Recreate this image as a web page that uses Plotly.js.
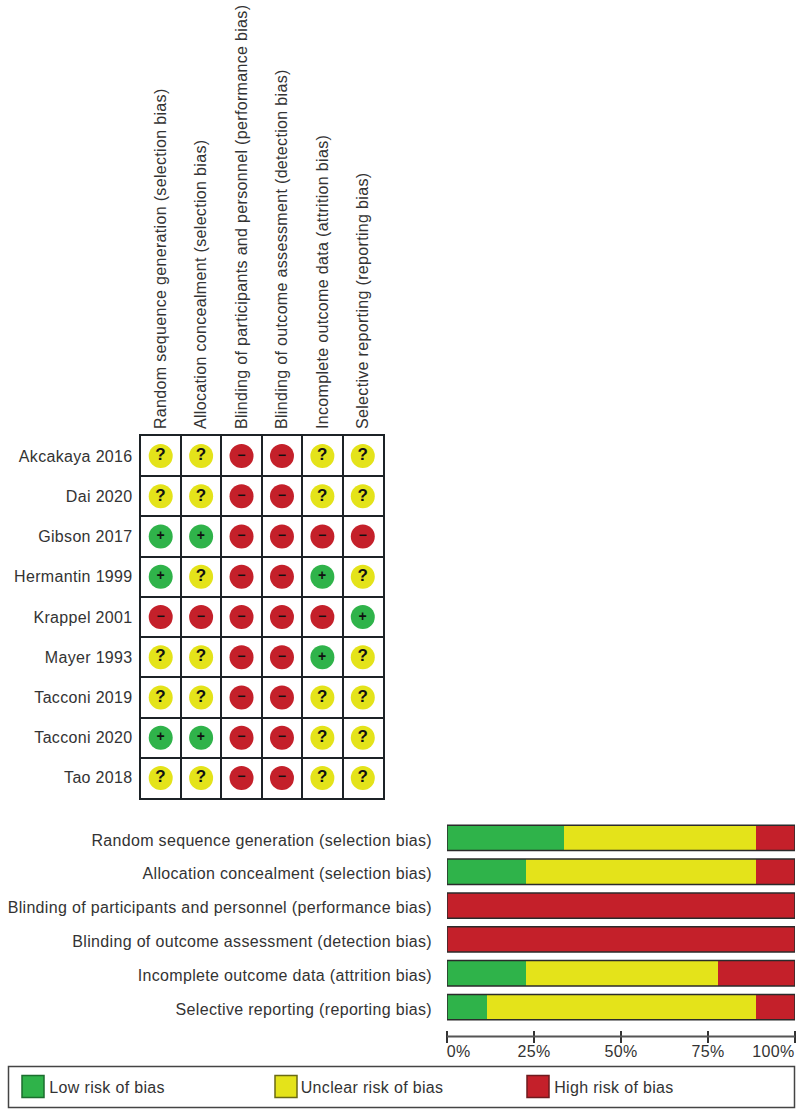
<!DOCTYPE html>
<html>
<head>
<meta charset="utf-8">
<script src="https://cdn.plot.ly/plotly-3.0.1.min.js"></script>
<style>html,body{margin:0;padding:0;background:#fff}#chart{width:800px;height:1110px}
#chart svg text{letter-spacing:.33px}</style>
</head>
<body>
<div id="chart"></div>
<script>
var studies = ['Akcakaya 2016','Dai 2020','Gibson 2017','Hermantin 1999','Krappel 2001','Mayer 1993','Tacconi 2019','Tacconi 2020','Tao 2018'];
var domains = ['Random sequence generation (selection bias)','Allocation concealment (selection bias)','Blinding of participants and personnel (performance bias)','Blinding of outcome assessment (detection bias)','Incomplete outcome data (attrition bias)','Selective reporting (reporting bias)'];
var akcakaya2016 = ['?','?','-','-','?','?'];
var dai2020      = ['?','?','-','-','?','?'];
var gibson2017   = ['+','+','-','-','-','-'];
var hermantin1999= ['+','?','-','-','+','?'];
var krappel2001  = ['-','-','-','-','-','+'];
var mayer1993    = ['?','?','-','-','+','?'];
var tacconi2019  = ['?','?','-','-','?','?'];
var tacconi2020  = ['+','+','-','-','?','?'];
var tao2018      = ['?','?','-','-','?','?'];
var judgements = [akcakaya2016,dai2020,gibson2017,hermantin1999,krappel2001,mayer1993,tacconi2019,tacconi2020,tao2018];
var lowPct     = [33.6,22.6,0,0,22.6,11.4];
var unclearPct = [55.2,66.2,0,0,55.4,77.4];
var highPct    = [11.2,11.2,100,100,22.0,11.2];
var pctTicks = [0,25,50,75,100];
var pctLabels = ['0%','25%','50%','75%','100%'];
var legendNames = ['Low risk of bias','Unclear risk of bias','High risk of bias'];

var GREEN='#2fb34a', YELLOW='#e4e31a', RED='#c4202a', INK='#1c2226', TEXT='#333333';
var FONT='"Liberation Sans", Arial, sans-serif', FS=16;
var py=function(p){return 1-p/1110;};
var px=function(p){return p/800;};

var symbols=[['+',GREEN,'#1f9a3a','+'],['?',YELLOW,'#d6d412','?'],['-',RED,'#b81c26','\u2212']];
var traces=[];
symbols.forEach(function(s){
  var xs=[],ys=[];
  judgements.forEach(function(row,i){row.forEach(function(v,j){if(v===s[0]){xs.push(domains[j]);ys.push(studies[i]);}});});
  traces.push({type:'scatter',mode:'markers+text',x:xs,y:ys,xaxis:'x',yaxis:'y',showlegend:false,hoverinfo:'x+y',
    text:xs.map(function(){return '<b>'+s[3]+'</b>';}),textposition:'middle center',
    textfont:{family:FONT,size:s[0]==='?'?17:14,color:'#111'},
    marker:{size:24,color:s[1],line:{width:0}}});
});
[[lowPct,GREEN,legendNames[0]],[unclearPct,YELLOW,legendNames[1]],[highPct,RED,legendNames[2]]].forEach(function(b){
  traces.push({type:'bar',orientation:'h',x:b[0],y:domains,xaxis:'x2',yaxis:'y2',name:b[2],showlegend:false,
    marker:{color:b[1],line:{width:0}},hovertemplate:'%{y}: %{x}%<extra>'+b[2]+'</extra>'});
});

var shapes=[], annotations=[];
domains.forEach(function(d,i){
  shapes.push({type:'rect',xref:'x2',yref:'y2',x0:0,x1:100,y0:i-0.375,y1:i+0.375,line:{color:'#2b2b2b',width:1.5},layer:'above'});
});
shapes.push({type:'line',xref:'x2',yref:'paper',x0:0,x1:100,y0:py(1036.5),y1:py(1036.5),line:{color:'#555',width:2}});
pctTicks.forEach(function(t,i){
  annotations.push({xref:'x2',yref:'paper',x:t,y:py(1051),text:pctLabels[i],showarrow:false,
    xanchor:i===0?'left':(i===4?'right':'center'),yanchor:'middle',xshift:i===0?-2:(i===4?1:0),
    font:{family:FONT,size:FS,color:TEXT}});
});
shapes.push({type:'rect',xref:'paper',yref:'paper',x0:px(8.5),x1:px(794.5),y0:py(1066.5),y1:py(1107.5),line:{color:'#444',width:1.5}});
[[22,GREEN,'#1b6e2e',50],[275,YELLOW,'#6a6a14',302],[527,RED,'#6e1a1e',555]].forEach(function(l,i){
  shapes.push({type:'rect',xref:'paper',yref:'paper',x0:px(l[0]),x1:px(l[0]+22),y0:py(1075.5),y1:py(1097.5),fillcolor:l[1],line:{color:l[2],width:1.5}});
  annotations.push({xref:'paper',yref:'paper',x:px(l[3]),y:py(1087),text:legendNames[i],showarrow:false,xanchor:'left',yanchor:'middle',font:{family:FONT,size:FS,color:TEXT}});
});

var layout={
  width:800,height:1110,autosize:false,margin:{l:0,r:0,t:0,b:0},
  paper_bgcolor:'#fff',plot_bgcolor:'rgba(0,0,0,0)',barmode:'stack',bargap:0.25,showlegend:false,
  font:{family:FONT,size:FS,color:TEXT},
  xaxis:{domain:[px(140.5),px(383)],anchor:'y',side:'top',type:'category',categoryorder:'array',categoryarray:domains,
    range:[-0.5,5.5],tickangle:-90,tickson:'boundaries',ticks:'',showgrid:true,gridcolor:INK,gridwidth:1.5,
    showline:true,linecolor:INK,linewidth:1.5,mirror:true,zeroline:false,ticklabelstandoff:2,fixedrange:true,
    tickfont:{family:FONT,size:FS,color:TEXT}},
  yaxis:{domain:[py(798),py(436)],anchor:'x',type:'category',categoryorder:'array',categoryarray:studies,
    range:[8.5,-0.5],tickson:'boundaries',ticks:'',showgrid:true,gridcolor:INK,gridwidth:1.5,
    showline:true,linecolor:INK,linewidth:1.5,mirror:true,zeroline:false,ticklabelstandoff:3,fixedrange:true,
    tickfont:{family:FONT,size:FS,color:TEXT}},
  xaxis2:{domain:[px(447),px(795)],anchor:'free',position:py(1030),range:[0,100],tickmode:'array',tickvals:pctTicks,
    showticklabels:false,ticks:'outside',ticklen:12,tickwidth:1.5,tickcolor:'#333',showline:false,showgrid:false,zeroline:false,fixedrange:true},
  yaxis2:{domain:[py(1024),py(821)],anchor:'x2',type:'category',categoryorder:'array',categoryarray:domains,
    range:[5.5,-0.5],ticks:'',showline:false,showgrid:false,zeroline:false,ticklabelstandoff:14,ticklabelshift:-2,fixedrange:true,
    tickfont:{family:FONT,size:FS,color:TEXT}},
  shapes:shapes,annotations:annotations
};
Plotly.newPlot('chart',traces,layout,{displayModeBar:false,responsive:false});
</script>
</body>
</html>
